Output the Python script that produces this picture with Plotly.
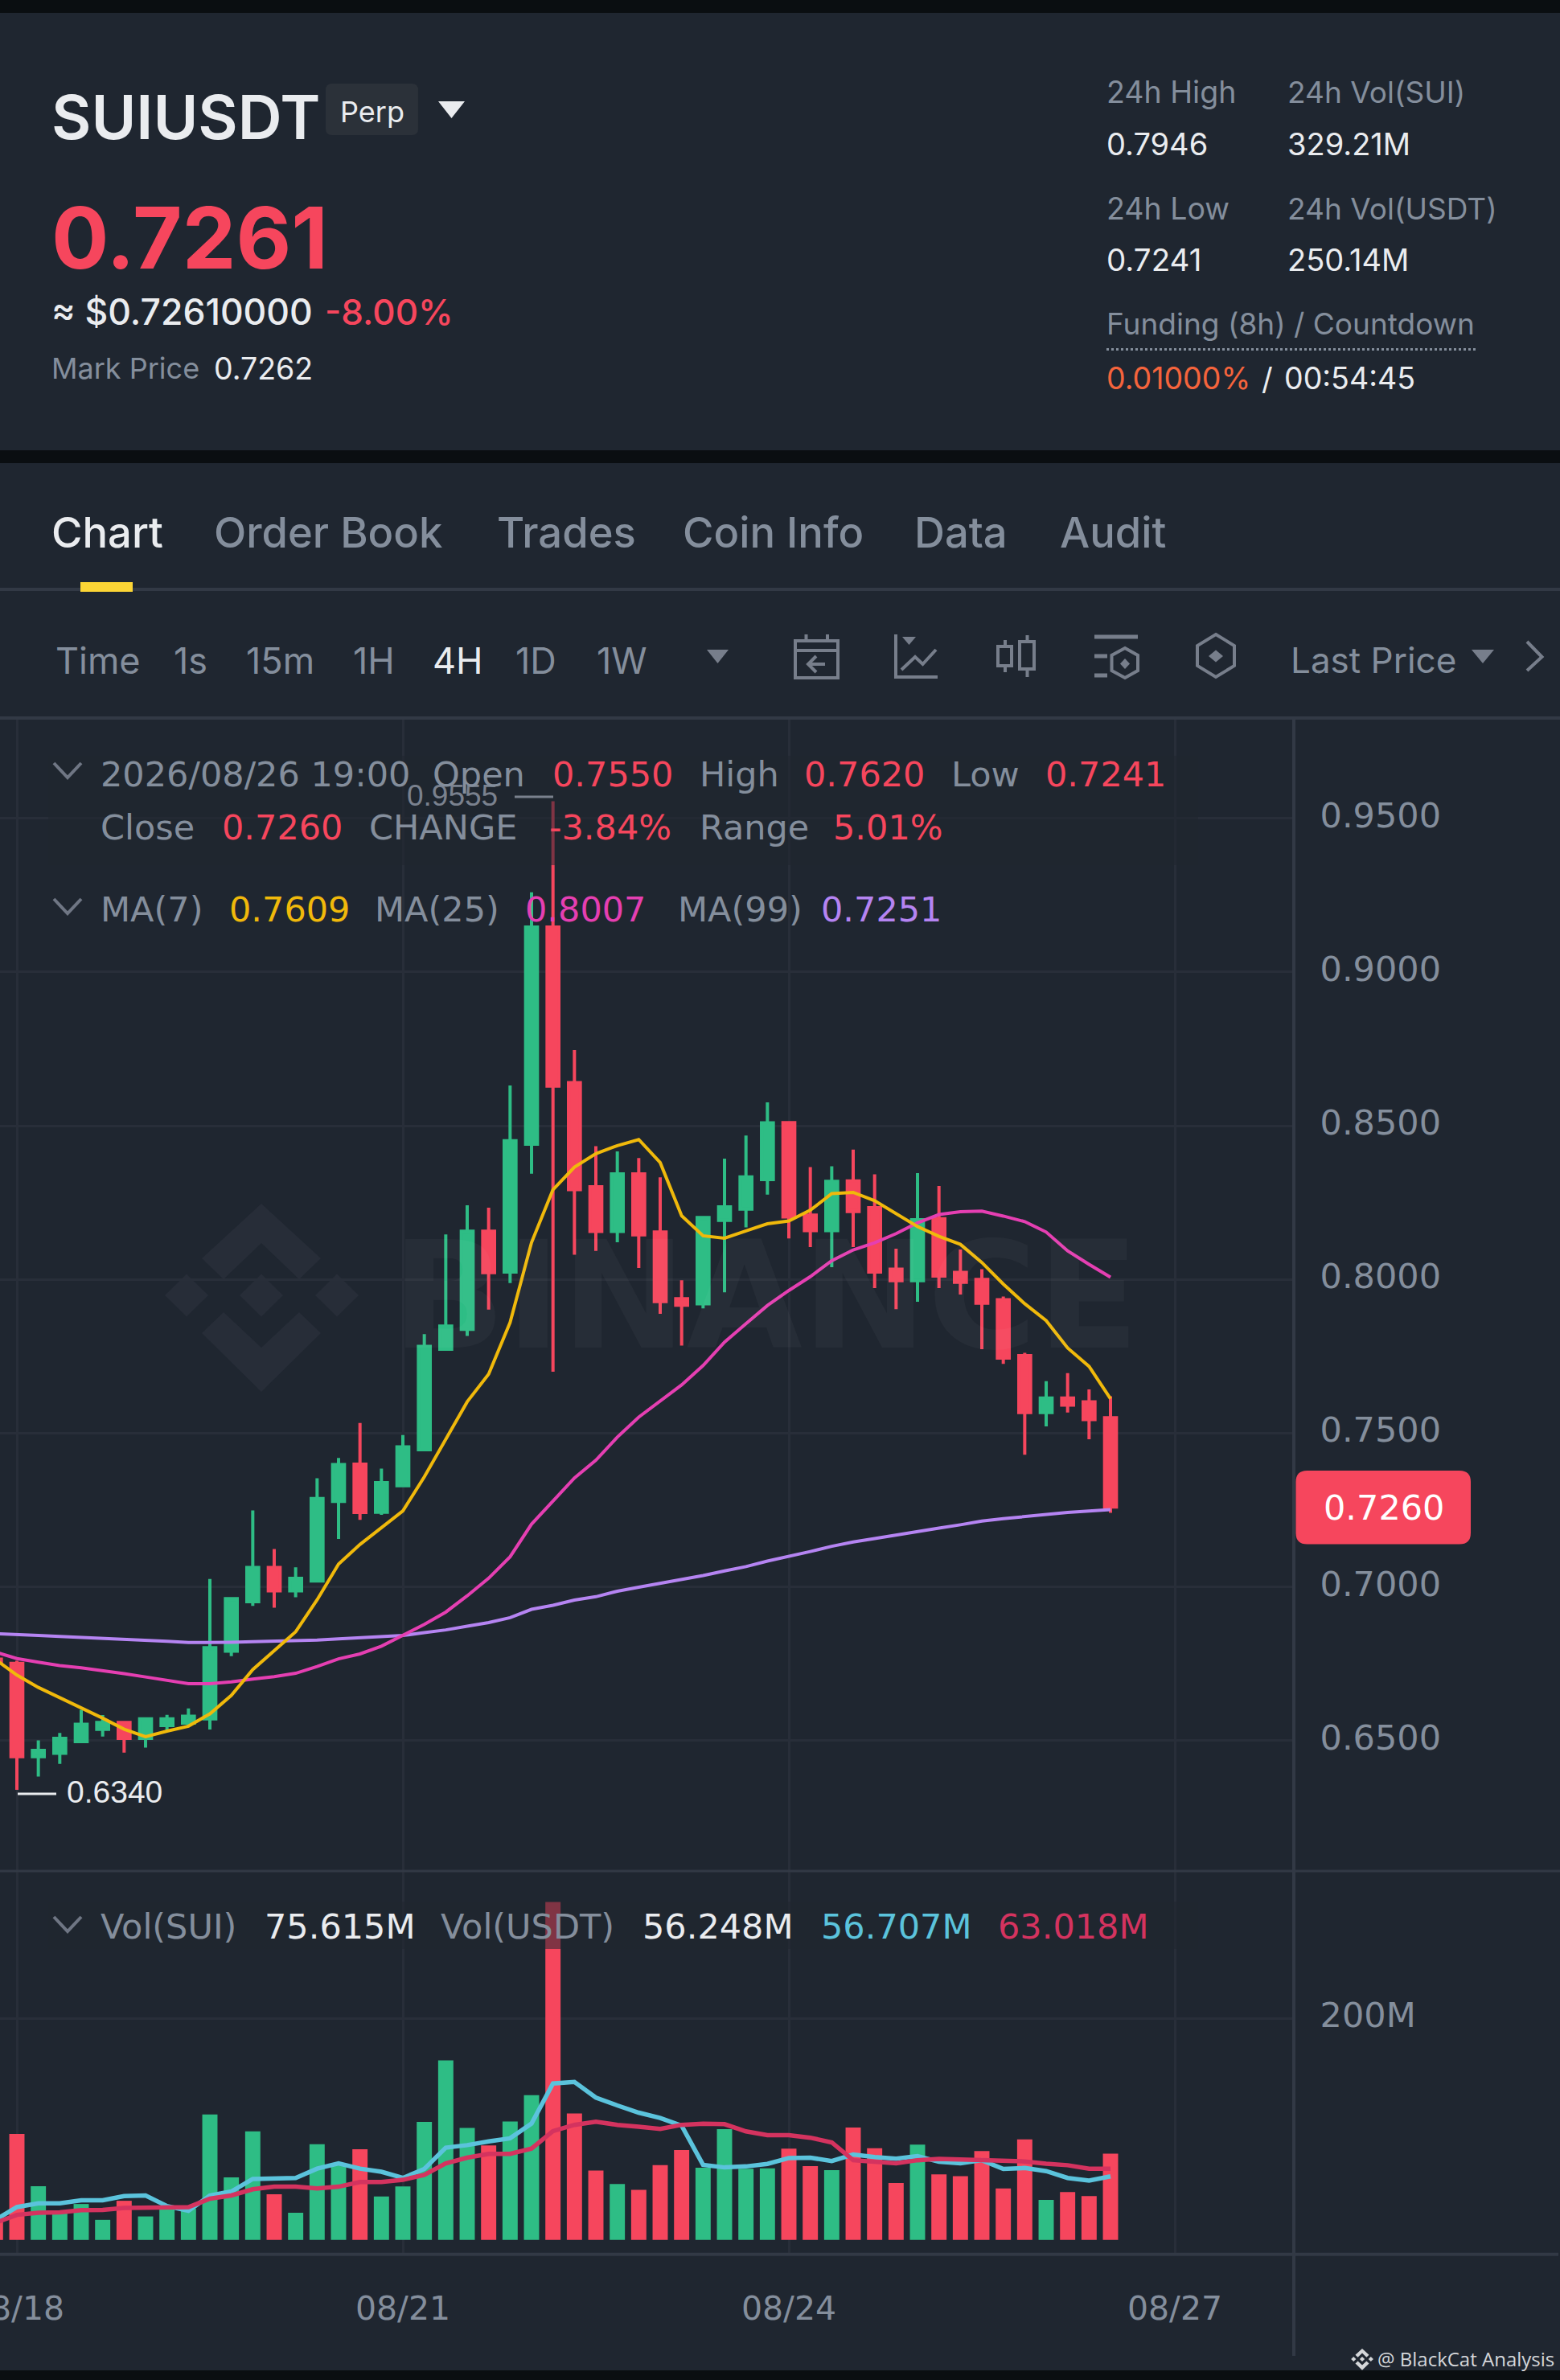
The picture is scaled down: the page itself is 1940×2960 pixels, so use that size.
import plotly.graph_objects as go

W, H = 1940, 2960
BG = "#1F2630"; STRIP = "#0A0E11"
GREEN = "#2EBD85"; RED = "#F6465D"; GREY = "#848E9C"; WHITE = "#EAECEF"
YELLOW = "#F0B90B"; MAGENTA = "#E53FB2"; PURPLE = "#B584F2"; CYAN = "#5BC3DC"; CRIMSON = "#D4335F"
LINE = "#323945"; GRID = "#282E39"; ICON = "#777E8B"; WM = "#272D38"
DJ = "DejaVu Sans"

# ---------- data ----------
candle_index = list(range(-1, 52))
opens = [0.6765, 0.6751, 0.6448, 0.6459, 0.6497, 0.6537, 0.6559, 0.6507, 0.6549, 0.6557, 0.6571, 0.6791, 0.6952,
         0.7063, 0.6987, 0.7019, 0.7278, 0.7399, 0.7243, 0.7329, 0.7446, 0.7773, 0.7838, 0.8157, 0.8024, 0.8440,
         0.9146, 0.8640, 0.8301, 0.8156, 0.8343, 0.8154, 0.7937, 0.7921, 0.8192, 0.8229, 0.8325, 0.8510, 0.8209,
         0.8159, 0.8320, 0.8233, 0.8033, 0.7996, 0.8197, 0.8023, 0.8000, 0.7934, 0.7752, 0.7567, 0.7614, 0.7602,
         0.7550]
highs = [0.6770, 0.6760, 0.6501, 0.6525, 0.6600, 0.6583, 0.6559, 0.6571, 0.6584, 0.6605, 0.7026, 0.6962, 0.7249,
         0.7123, 0.7064, 0.7353, 0.7419, 0.7533, 0.7385, 0.7494, 0.7822, 0.8146, 0.8241, 0.8233, 0.8631, 0.9259,
         0.9555, 0.8746, 0.8433, 0.8416, 0.8395, 0.8332, 0.7997, 0.8204, 0.8393, 0.8468, 0.8576, 0.8510, 0.8365,
         0.8368, 0.8422, 0.8342, 0.8100, 0.8346, 0.8304, 0.8097, 0.8033, 0.7944, 0.7761, 0.7669, 0.7695, 0.7642,
         0.7620]
lows = [0.6745, 0.6340, 0.6383, 0.6424, 0.6497, 0.6513, 0.6461, 0.6477, 0.6533, 0.6547, 0.6536, 0.6775, 0.6938,
        0.6932, 0.6966, 0.7019, 0.7156, 0.7218, 0.7234, 0.7329, 0.7446, 0.7770, 0.7816, 0.7902, 0.7988, 0.8344,
        0.7700, 0.8080, 0.8093, 0.8121, 0.8037, 0.7888, 0.7785, 0.7906, 0.7958, 0.8169, 0.8276, 0.8133, 0.8105,
        0.8040, 0.8105, 0.7972, 0.7903, 0.7927, 0.7972, 0.7951, 0.7773, 0.7725, 0.7430, 0.7522, 0.7567, 0.7480,
        0.7241]
closes = [0.6755, 0.6448, 0.6468, 0.6507, 0.6553, 0.6559, 0.6507, 0.6571, 0.6571, 0.6579, 0.6802, 0.6962, 0.7063,
          0.6987, 0.7028, 0.7287, 0.7398, 0.7242, 0.7339, 0.7455, 0.7782, 0.7848, 0.8157, 0.8022, 0.8451, 0.9146,
          0.8629, 0.8292, 0.8156, 0.8343, 0.8145, 0.7928, 0.7916, 0.8201, 0.8236, 0.8333, 0.8509, 0.8203, 0.8159,
          0.8319, 0.8221, 0.8024, 0.7996, 0.8194, 0.8011, 0.7991, 0.7923, 0.7744, 0.7567, 0.7614, 0.7591, 0.7544,
          0.7260]
ma7 = [0.6764, 0.6713, 0.6673, 0.6640, 0.6608, 0.6573, 0.6537, 0.6513, 0.6531, 0.6547, 0.6587, 0.6647, 0.6731,
       0.6794, 0.6854, 0.6958, 0.7074, 0.7138, 0.7191, 0.7247, 0.7358, 0.7481, 0.7602, 0.7692, 0.7860, 0.8120,
       0.8292, 0.8365, 0.8409, 0.8435, 0.8455, 0.8380, 0.8207, 0.8142, 0.8134, 0.8158, 0.8181, 0.8190, 0.8225,
       0.8279, 0.8283, 0.8256, 0.8213, 0.8172, 0.8140, 0.8114, 0.8055, 0.7985, 0.7921, 0.7866, 0.7777, 0.7717,
       0.7612]
ma25 = [0.6788, 0.6767, 0.6755, 0.6744, 0.6737, 0.6728, 0.6718, 0.6707, 0.6696, 0.6685, 0.6685, 0.6691, 0.6700,
        0.6708, 0.6719, 0.6741, 0.6766, 0.6782, 0.6807, 0.6842, 0.6878, 0.6918, 0.6971, 0.7028, 0.7098, 0.7204,
        0.7278, 0.7354, 0.7412, 0.7487, 0.7552, 0.7606, 0.7657, 0.7720, 0.7796, 0.7856, 0.7915, 0.7964, 0.8009,
        0.8061, 0.8096, 0.8119, 0.8149, 0.8184, 0.8211, 0.8220, 0.8222, 0.8206, 0.8188, 0.8154, 0.8093, 0.8049,
        0.8007]
ma99 = [0.6848, 0.6844, 0.6842, 0.6839, 0.6836, 0.6834, 0.6831, 0.6827, 0.6823, 0.6819, 0.6819, 0.6820, 0.6822,
        0.6823, 0.6824, 0.6827, 0.6831, 0.6835, 0.6838, 0.6842, 0.6851, 0.6860, 0.6872, 0.6884, 0.6900, 0.6927,
        0.6940, 0.6957, 0.6968, 0.6986, 0.6999, 0.7011, 0.7023, 0.7037, 0.7052, 0.7066, 0.7084, 0.7099, 0.7115,
        0.7132, 0.7146, 0.7157, 0.7169, 0.7180, 0.7191, 0.7202, 0.7214, 0.7222, 0.7229, 0.7235, 0.7242, 0.7247,
        0.7251]
vol = [17.0, 95.6, 48.5, 24.0, 32.4, 18.1, 35.3, 21.2, 28.2, 28.2, 113.1, 56.4, 97.9, 41.2, 24.5, 86.3, 69.1,
       81.8, 39.2, 48.2, 106.4, 161.9, 101.0, 85.2, 106.9, 130.6, 304.7, 114.0, 62.6, 50.5, 45.1, 67.4, 81.0,
       65.2, 99.9, 64.3, 64.6, 82.4, 66.6, 62.9, 101.3, 82.7, 51.3, 86.0, 59.2, 57.5, 80.1, 46.5, 90.6, 36.1,
       43.2, 39.5, 77.9]
vol_ma_short = [18.0, 29.6, 33.0, 33.0, 35.8, 35.8, 39.5, 40.1, 30.5, 26.2, 40.1, 43.7, 55.0, 55.6, 55.9, 64.3,
                69.1, 64.3, 61.5, 55.9, 64.0, 83.2, 85.5, 88.9, 91.7, 104.9, 141.1, 142.5, 128.4, 121.3, 114.8,
                110.0, 103.0, 67.7, 65.4, 66.3, 68.6, 73.9, 74.2, 71.1, 77.0, 74.8, 73.3, 75.6, 70.5, 69.1, 71.9,
                64.0, 64.9, 62.1, 55.9, 53.6, 57.3]
vol_ma_long = [15.5, 22.6, 24.5, 24.8, 26.8, 27.1, 28.8, 29.3, 29.6, 29.6, 37.2, 40.1, 45.7, 48.0, 48.0, 46.5,
               48.0, 52.2, 52.2, 54.2, 58.7, 69.1, 74.2, 77.6, 77.6, 82.4, 98.2, 103.8, 106.6, 103.8, 102.1,
               100.1, 103.8, 104.9, 104.4, 97.9, 94.5, 94.5, 92.2, 88.0, 71.9, 70.0, 69.1, 71.9, 73.1, 72.5,
               72.2, 71.4, 70.8, 68.8, 67.4, 64.3, 64.3]
date_ticks = [0, 18, 36, 54]
date_labels = ["08/18", "08/21", "08/24", "08/27"]
price_ticks = [0.65, 0.70, 0.75, 0.80, 0.85, 0.90, 0.95]
price_labels = ["0.6500", "0.7000", "0.7500", "0.8000", "0.8500", "0.9000", "0.9500"]
vol_ticks = [200]
vol_labels = ["200M"]
vol_colors = [GREEN if c >= o else RED for o, c in zip(opens, closes)]

# ---------- page helpers ----------
def fx(p): return p / W
def fy(p): return 1 - p / H

ann, shp = [], []

def T(x, y, s, size, color, anchor="left", weight=400, family="Inter"):
    ann.append(dict(x=fx(x), y=fy(y), xref="paper", yref="paper", text=s, showarrow=False, xanchor=anchor,
                    yanchor="middle", borderpad=0, borderwidth=0,
                    font=dict(size=size, color=color, weight=weight, family=family)))

def rect(x0, y0, x1, y1, fill, layer="above"):
    shp.append(dict(type="rect", xref="paper", yref="paper", x0=fx(x0), x1=fx(x1), y0=fy(y0), y1=fy(y1),
                    fillcolor=fill, line_width=0, layer=layer))

def line(x0, y0, x1, y1, color, width=3, dash=None):
    d = dict(color=color, width=width)
    if dash: d["dash"] = dash
    shp.append(dict(type="line", xref="paper", yref="paper", x0=fx(x0), x1=fx(x1), y0=fy(y0), y1=fy(y1),
                    line=d, layer="above"))

def poly(pts, fill=None, stroke=None, width=3, closed=True, layer="above"):
    path = "M " + " L ".join(f"{fx(a):.6f} {fy(b):.6f}" for a, b in pts) + (" Z" if closed else "")
    s = dict(type="path", xref="paper", yref="paper", path=path, layer=layer)
    s["fillcolor"] = fill if fill else "rgba(0,0,0,0)"
    s["line"] = dict(color=stroke, width=width) if stroke else dict(width=0)
    shp.append(s)

def rrect(x0, y0, x1, y1, r, fill):
    q = lambda a, b: f"{fx(a):.6f} {fy(b):.6f}"
    path = (f"M {q(x0+r,y0)} L {q(x1-r,y0)} Q {q(x1,y0)} {q(x1,y0+r)} L {q(x1,y1-r)} Q {q(x1,y1)} {q(x1-r,y1)} "
            f"L {q(x0+r,y1)} Q {q(x0,y1)} {q(x0,y1-r)} L {q(x0,y0+r)} Q {q(x0,y0)} {q(x0+r,y0)} Z")
    shp.append(dict(type="path", xref="paper", yref="paper", path=path, fillcolor=fill, line=dict(width=0), layer="above"))

def logo(cx, cy, k, color, layer):
    def d(dx):
        poly([(cx+dx, cy-26.5*k), (cx+dx+27*k, cy), (cx+dx, cy+26.5*k), (cx+dx-27*k, cy)], fill=color, layer=layer)
    d(0); d(-93*k); d(94*k)
    poly([(cx, cy-114*k), (cx+74*k, cy-46*k), (cx+47*k, cy-20*k), (cx, cy-65*k), (cx-47*k, cy-20*k), (cx-74*k, cy-46*k)], fill=color, layer=layer)
    poly([(cx, cy+120*k), (cx+74*k, cy+47*k), (cx+47*k, cy+21*k), (cx, cy+65*k), (cx-47*k, cy+21*k), (cx-74*k, cy+47*k)], fill=color, layer=layer)

def chevron(y):
    poly([(67, y-9), (84, y+9), (101, y-9)], stroke="#6F7684", width=4, closed=False)

# ---------- chrome ----------
rect(0, 0, W, 16, STRIP); rect(0, 560, W, 576, STRIP); rect(0, 2948, W, H, STRIP)

T(64, 145, "SUIUSDT", 76, WHITE, weight=600)
rrect(405, 104, 520, 168, 8, "#2B3139")
T(462.5, 139, "Perp", 36, WHITE, "center")
poly([(545, 126), (578, 126), (561.5, 147)], fill=WHITE)
T(64, 295, "0.7261", 106, RED, weight=700)
T(64, 388, "≈ $0.72610000", 44.5, WHITE, weight=500)
T(404, 388, "-8.00%", 44, RED, weight=500)
T(64, 458, "Mark Price", 36, GREY)
T(266, 458, "0.7262", 37.5, WHITE)

T(1376, 115, "24h High", 37.5, GREY); T(1601, 115, "24h Vol(SUI)", 37, GREY)
T(1376, 179, "0.7946", 38, WHITE); T(1601, 179, "329.21M", 38, WHITE)
T(1376, 259, "24h Low", 37.5, GREY); T(1601, 259, "24h Vol(USDT)", 37, GREY)
T(1376, 323, "0.7241", 38.5, WHITE); T(1601, 323, "250.14M", 38, WHITE)
T(1376, 403, "Funding (8h) / Countdown", 37, GREY)
line(1376, 434.5, 1837, 434.5, GREY, 3, "dot")
T(1376, 471, "0.01000%", 37.5, "#F5643C"); T(1569, 471, "/", 38, WHITE); T(1597, 471, "00:54:45", 37.5, WHITE)

for x_, s_, c_ in [(64, "Chart", WHITE), (266, "Order Book", GREY), (618, "Trades", GREY),
                   (849, "Coin Info", GREY), (1137, "Data", GREY), (1318, "Audit", GREY)]:
    T(x_, 662, s_, 52.5, c_, weight=500)
line(0, 733, W, 733, LINE, 4)
rect(100, 724, 165, 736, "#FCD535")

for x_, s_, c_ in [(69, "Time", GREY), (216, "1s", GREY), (306, "15m", GREY), (439, "1H", GREY),
                   (538, "4H", WHITE), (641, "1D", GREY), (742, "1W", GREY)]:
    T(x_, 821, s_, 45, c_)
poly([(879, 808), (906, 808), (892.5, 825)], fill=ICON)

# toolbar icons
poly([(989, 797), (1042, 797), (1042, 843), (989, 843)], stroke=ICON, width=4)
line(989, 809, 1042, 809, ICON, 4); line(1002.5, 789, 1002.5, 797, ICON, 4); line(1029, 789, 1029, 797, ICON, 4)
line(1005, 826, 1026, 826, ICON, 4); poly([(1015, 816), (1005, 826), (1015, 836)], stroke=ICON, width=4, closed=False)
poly([(1114, 789), (1114, 842), (1166, 842)], stroke=ICON, width=4, closed=False)
poly([(1122, 792), (1139, 792), (1130.5, 802)], fill=ICON)
poly([(1121, 833), (1138, 817), (1147.5, 826), (1164, 808)], stroke=ICON, width=4, closed=False)
poly([(1241, 804), (1258, 804), (1258, 828), (1241, 828)], stroke=ICON, width=4)
line(1250, 796, 1250, 804, ICON, 4); line(1250, 828, 1250, 836, ICON, 4)
poly([(1268, 798), (1286, 798), (1286, 832), (1268, 832)], stroke=ICON, width=4)
line(1277.5, 790, 1277.5, 798, ICON, 4); line(1277.5, 832, 1277.5, 842, ICON, 4)
line(1361, 792, 1415, 792, ICON, 5); line(1361, 816, 1377, 816, ICON, 5); line(1361, 840, 1377, 840, ICON, 5)
poly([(1399, 806), (1415, 815), (1415, 834), (1399, 843), (1382.5, 834), (1382.5, 815)], stroke=ICON, width=4)
poly([(1399, 819), (1405, 825.5), (1399, 832), (1393, 825.5)], fill=ICON)
poly([(1512, 789), (1535, 803), (1535, 828), (1512, 842), (1489, 828), (1489, 803)], stroke=ICON, width=4)
poly([(1512, 808.5), (1521, 816), (1512, 823.5), (1503, 816)], fill=ICON)
T(1605, 821, "Last Price", 44, GREY)
poly([(1830, 808), (1858, 808), (1844, 825)], fill=ICON)
poly([(1899, 798), (1917.5, 817), (1899, 834)], stroke=ICON, width=4, closed=False)

# chart frame
line(0, 893, W, 893, LINE, 4)
line(0, 2327, W, 2327, LINE, 3)
line(0, 2803.7, 1938, 2803.7, LINE, 4)
line(1609, 893, 1609, 2930, LINE, 4)

# watermark
logo(325, 1611, 1.0, WM, "below")
T(952, 1611, "BINANCE", 186, "rgba(255,255,255,0.035)", "center", 700, DJ)

# dim overlays under the legend rows
DIM = "rgba(31,38,48,0.55)"
rect(60, 940, 1490, 1076, DIM)
rect(60, 2365, 1490, 2424, DIM)

# legends
chevron(958)
T(125, 963, "2026/08/26 19:00", 43, GREY, family=DJ)
T(506, 990, "0.9555", 37, "#7A818E", family="Liberation Sans")
line(640, 991, 688, 991, "#7A818E", 3)
T(538, 963, "Open", 43, GREY, family=DJ); T(687, 963, "0.7550", 43, RED, family=DJ)
T(870, 963, "High", 43, GREY, family=DJ); T(1000, 963, "0.7620", 43, RED, family=DJ)
T(1183, 963, "Low", 43, GREY, family=DJ); T(1300, 963, "0.7241", 43, RED, family=DJ)
T(125, 1029, "Close", 43, GREY, family=DJ); T(276, 1029, "0.7260", 43, RED, family=DJ)
T(459, 1029, "CHANGE", 43, GREY, family=DJ); T(683, 1029, "-3.84%", 43, RED, family=DJ)
T(870, 1029, "Range", 43, GREY, family=DJ); T(1036, 1029, "5.01%", 43, RED, family=DJ)
chevron(1127)
T(125, 1131, "MA(7)", 43, GREY, family=DJ); T(285, 1131, "0.7609", 43, "#F0B90B", family=DJ)
T(466, 1131, "MA(25)", 43, GREY, family=DJ); T(653, 1131, "0.8007", 43, MAGENTA, family=DJ)
T(843, 1131, "MA(99)", 43, GREY, family=DJ); T(1021, 1131, "0.7251", 43, PURPLE, family=DJ)
chevron(2393)
T(125, 2396, "Vol(SUI)", 43, GREY, family=DJ); T(329, 2396, "75.615M", 43, WHITE, family=DJ)
T(548, 2396, "Vol(USDT)", 43, GREY, family=DJ); T(799, 2396, "56.248M", 43, WHITE, family=DJ)
T(1021, 2396, "56.707M", 43, CYAN, family=DJ); T(1241, 2396, "63.018M", 43, CRIMSON, family=DJ)

# low marker
line(22, 2231, 70, 2231, WHITE, 3)
T(83, 2228, "0.6340", 39, WHITE, family="Liberation Sans")

# last price tag
rrect(1611.5, 1829, 1829, 1920.5, 14, RED)
T(1720.5, 1875, "0.7260", 43, "#FFFFFF", "center", family=DJ)

# credit
logo(1694, 2934, 0.115, "#D5D7DA", "above")
T(1713, 2933, "@ BlackCat Analysis", 24, "#D5D7DA", family="Open Sans")

# ---------- figure ----------
fig = go.Figure()
fig.add_trace(go.Candlestick(
    x=candle_index, open=opens, high=highs, low=lows, close=closes, xaxis="x", yaxis="y", whiskerwidth=0,
    increasing=dict(line=dict(color=GREEN, width=4), fillcolor=GREEN),
    decreasing=dict(line=dict(color=RED, width=4), fillcolor=RED), showlegend=False))
for vals, col in [(ma99, PURPLE), (ma25, MAGENTA), (ma7, YELLOW)]:
    fig.add_trace(go.Scatter(x=candle_index, y=vals, mode="lines", line=dict(color=col, width=4),
                             xaxis="x", yaxis="y", showlegend=False))
fig.add_trace(go.Bar(x=candle_index, y=vol, marker=dict(color=vol_colors, line_width=0), xaxis="x2", yaxis="y2",
                     showlegend=False))
for vals, col in [(vol_ma_short, CYAN), (vol_ma_long, CRIMSON)]:
    fig.add_trace(go.Scatter(x=candle_index, y=vals, mode="lines", line=dict(color=col, width=5.5),
                             xaxis="x2", yaxis="y2", showlegend=False))

X_RANGE = [-21 / 26.667, (1609.6 - 21) / 26.667]
PY = lambda p: 0.85 - (p - 1400) / 3824
VY = lambda p: (2785.8 - p) * 200 / 275.8
tickfont = dict(size=43, color=GREY, family=DJ)
datefont = dict(size=41, color=GREY, family=DJ)
axis_common = dict(showgrid=True, gridcolor=GRID, gridwidth=3, zeroline=False, showline=False, ticks="")
fig.update_layout(
    width=W, height=H, margin=dict(l=0, r=0, t=0, b=0, pad=0, autoexpand=False), autosize=False,
    paper_bgcolor=BG, plot_bgcolor="rgba(0,0,0,0)", showlegend=False, boxgap=0.45, boxgroupgap=0, bargap=0.29,
    hovermode=False, font=dict(family="Inter"),
    xaxis=dict(domain=[0, 1609.6 / W], range=X_RANGE, anchor="y", tickmode="array", tickvals=date_ticks,
               showticklabels=False, rangeslider=dict(visible=False), **axis_common),
    yaxis=dict(domain=[fy(2327), fy(893)], range=[PY(2327), PY(893)], anchor="x", side="right", tickmode="array",
               tickvals=price_ticks, ticktext=price_labels, tickfont=tickfont, ticklabelstandoff=31,
               ticklabelshift=-4, **axis_common),
    xaxis2=dict(domain=[0, 1609.6 / W], range=X_RANGE, anchor="y2", tickmode="array", tickvals=date_ticks,
                ticktext=date_labels, tickfont=datefont, ticklabelstandoff=39, ticklabeloverflow="allow", **axis_common),
    yaxis2=dict(domain=[fy(2803.7), fy(2327)], range=[VY(2803.7), VY(2327)], anchor="x2", side="right",
                tickmode="array", tickvals=vol_ticks, ticktext=vol_labels, tickfont=tickfont, ticklabelstandoff=31,
                ticklabelshift=-4, **axis_common),
    annotations=ann, shapes=shp,
)
fig.write_html("out.html", config=dict(displayModeBar=False),
               post_script="document.body.style.margin='0';document.body.style.background='#1F2630';")
